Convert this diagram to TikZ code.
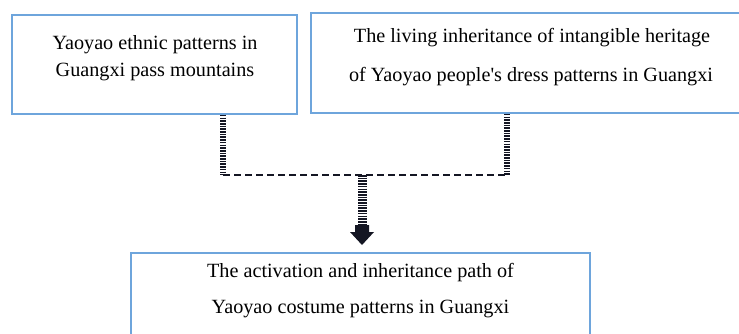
\documentclass[tikz,border=0pt]{standalone}
\usepackage{fontspec}
\setmainfont{Liberation Serif}
\newfontfamily\serfont{Liberation Serif}
\definecolor{boxblue}{RGB}{110,165,220}
\definecolor{arrowdark}{RGB}{20,22,35}
\tikzset{
  x=1pt, y=-1pt,
  box/.style={draw=boxblue, line width=1.8pt, fill=white, inner sep=0pt},
  txt/.style={anchor=base, inner sep=0pt, font=\serfont\fontsize{20.2}{24}\selectfont, text=black},
  sidelink/.style={line width=5.5pt, dash pattern=on 1.6pt off 1.1pt, arrowdark},
  midlink/.style={line width=9pt, dash pattern=on 1.6pt off 1.1pt, arrowdark},
  joinlink/.style={line width=2.2pt, dash pattern=on 7pt off 4pt, arrowdark},
}
\begin{document}
\begin{tikzpicture}
\useasboundingbox (0,0) rectangle (739,334);
\clip (0,0) rectangle (739,334);
\fill[white] (0,0) rectangle (739,334);
% boxes
\node[box, minimum width=285pt, minimum height=99pt] (L) at (154.5,64.5) {};
\node[box, minimum width=440pt, minimum height=100pt] (R) at (531,63) {};
\node[box, minimum width=459pt, minimum height=120pt] (B) at (360.5,313) {};
% texts
\node[txt] (L1) at (155,50) {Yaoyao ethnic patterns in};
\node[txt] (L2) at (155,77) {Guangxi pass mountains};
\node[txt] (R1) at (532,43) {The living inheritance of intangible heritage};
\node[txt] (R2) at (531,82) {of Yaoyao people\textquotesingle s dress patterns in Guangxi};
\node[txt] (B1) at (360.5,277) {The activation and inheritance path of};
\node[txt] (B2) at (360.5,313) {Yaoyao costume patterns in Guangxi};
% connectors
\coordinate (jl) at (223,175);
\coordinate (jr) at (507,175);
\coordinate (jm) at (362,175);
\coordinate (ah) at (362,225);
\draw[sidelink] (L.south -| jl) -- (jl);
\draw[sidelink] (R.south -| jr) -- (jr);
\draw[joinlink] (jl) -- (jr);
\draw[midlink] (jm) -- (ah);
\fill[arrowdark] ([xshift=-7pt]ah) -- ([xshift=7pt]ah) -- ([xshift=7pt,yshift=-7pt]ah)
  -- ([xshift=12pt,yshift=-7pt]ah) -- ([yshift=-20pt]ah) -- ([xshift=-12pt,yshift=-7pt]ah)
  -- ([xshift=-7pt,yshift=-7pt]ah) -- cycle;
\end{tikzpicture}
\end{document}
